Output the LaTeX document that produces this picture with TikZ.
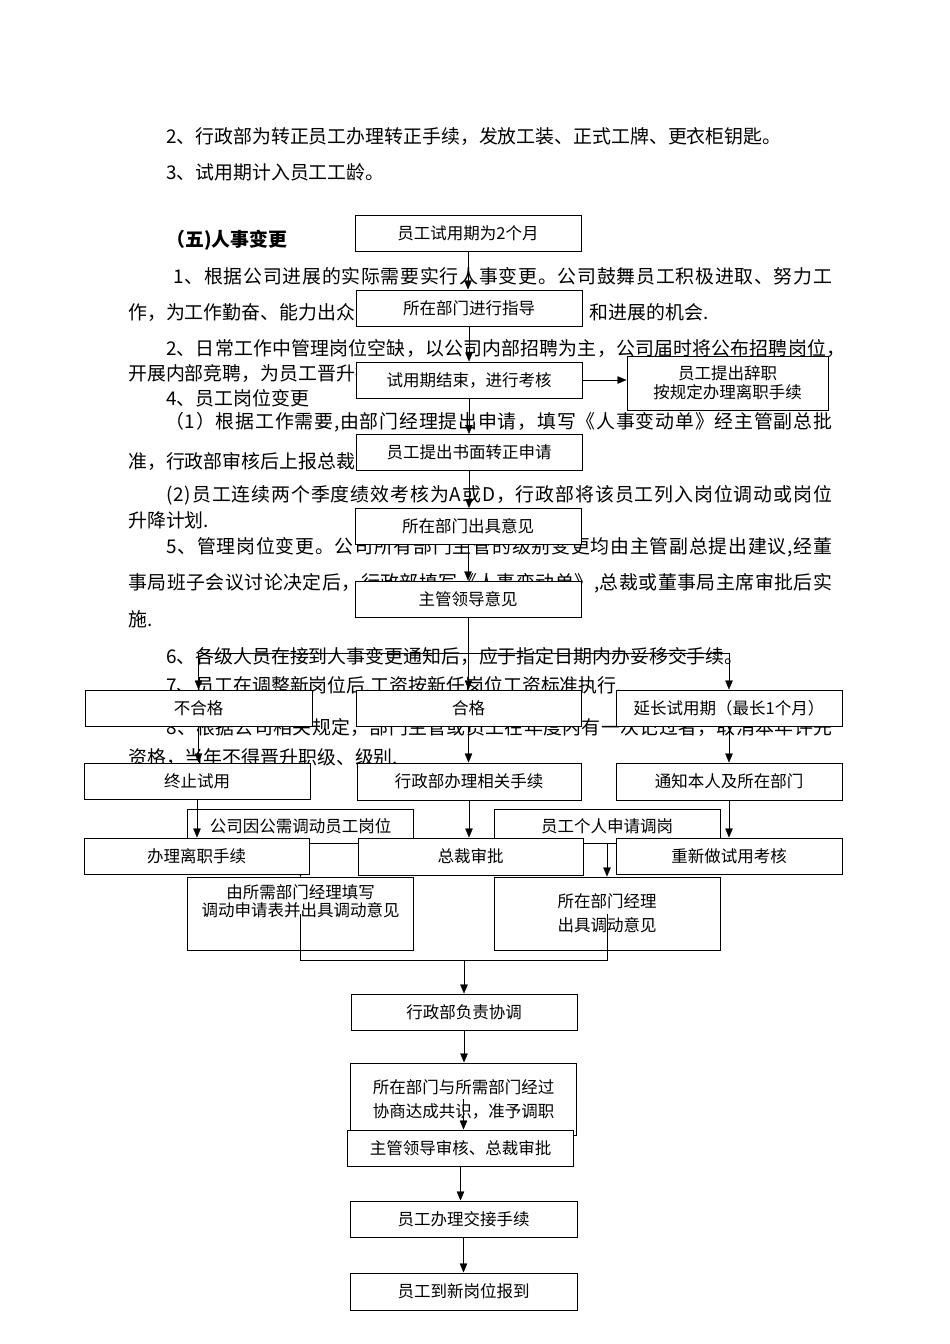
\documentclass[tikz,border=0pt]{standalone}
\usepackage{fontspec}
\setmainfont{Noto Sans CJK SC}
\usepackage{tikz}
\usetikzlibrary{arrows.meta}
\ExplSyntaxOn
\cs_new:Npn \spreadchars #1 { \tl_map_inline:nn {#1} { ##1 \hskip 0pt~plus~1fil } \unskip }
\ExplSyntaxOff
\newcommand\jline[2]{\hbox to #1{\spreadchars{#2}}}
\tikzset{box/.style={rectangle,draw,fill=white,line width=1pt,minimum width=226pt,minimum height=36pt,inner sep=2pt,align=center,font=\fontsize{16.5pt}{24pt}\selectfont}}
\tikzset{txt/.style={anchor=west,inner sep=0pt,font=\fontsize{18.9pt}{22pt}\selectfont}}

\begin{document}
\begin{tikzpicture}[x=1pt,y=-1pt,>={Triangle[length=9pt,width=7.5pt]}]
    \useasboundingbox (0,0) rectangle (950,1344);
    % page text
    \node[txt] (p1) at (166,137) {2、行政部为转正员工办理转正手续，发放工装、正式工牌、更衣柜钥匙。};
    \node[txt] (p2) at (166,172) {3、试用期计入员工工龄。};
    \node[txt,font=\fontsize{18.9pt}{22pt}\selectfont\bfseries] (head) at (166,240) {（五)人事变更};
    \node[txt] (p3) at (173,276) {\jline{659pt}{1、根据公司进展的实际需要实行人事变更。公司鼓舞员工积极进取、努力工}};
    \node[txt] (p4) at (128,313) {作，为工作勤奋、能力出众的员工提供更多的岗位晋升\hspace{8pt}和进展的机会.};
    \node[txt] (p5) at (166,349) {\jline{679pt}{2、日常工作中管理岗位空缺，以公司内部招聘为主，公司届时将公布招聘岗位，}};
    \node[txt] (p6) at (128,374) {开展内部竞聘，为员工晋升提供机会。};
    \node[txt] (p7) at (166,398) {4、员工岗位变更};
    \node[txt] (p8) at (165,422) {\jline{667pt}{（1）根据工作需要,由部门经理提出申请，填写《人事变动单》经主管副总批}};
    \node[txt] (p9) at (128,461) {准，行政部审核后上报总裁审批后执行。};
    \node[txt] (p10) at (166,495) {\jline{666pt}{(2)员工连续两个季度绩效考核为A或D，行政部将该员工列入岗位调动或岗位}};
    \node[txt] (p11) at (128,520) {升降计划.};
    \node[txt] (p12) at (166,547) {\jline{666pt}{5、管理岗位变更。公司所有部门主管的级别变更均由主管副总提出建议,经董}};
    \node[txt] (p13) at (128,583) {\jline{704pt}{事局班子会议讨论决定后，行政部填写《人事变动单》,总裁或董事局主席审批后实}};
    \node[txt] (p14) at (128,619) {施.};
    \node[txt] (p15) at (166,656) {6、各级人员在接到人事变更通知后，应于指定日期内办妥移交手续。};
    \node[txt] (p16) at (166,686) {7、员工在调整新岗位后,工资按新任岗位工资标准执行.};
    \node[txt] (p17) at (166,727) {\jline{666pt}{8、根据公司相关规定，部门主管或员工在年度内有一次记过者，取消本年评先}};
    \node[txt] (p18) at (128,758) {资格，当年不得晋升职级、级别.};

    % flow chart
    \node[box] (trial) at (468,233.5) {员工试用期为2个月};
    \node[box] (guide) at (469,308) {所在部门进行指导};
    \node[box] (assess) at (469,380) {试用期结束，进行考核};
    \node[box,minimum width=201pt,minimum height=54pt,font=\fontsize{16.5pt}{19pt}\selectfont] (resign) at (727.5,383) {员工提出辞职\\按规定办理离职手续};
    \node[box] (apply) at (469,452.5) {员工提出书面转正申请};
    \node[box] (deptop) at (468,526.5) {所在部门出具意见};
    \node[box] (leadop) at (468,599) {主管领导意见};
    \node[box,minimum width=227pt] (fail) at (198.5,708) {不合格};
    \node[box,minimum width=225pt] (pass) at (468.5,708) {合格};
    \node[box] (extend) at (729,708) {延长试用期（最长1个月）};
    \node[box] (stop) at (197,781) {终止试用};
    \node[box,minimum width=224pt,minimum height=37pt] (admin) at (469,781.5) {行政部办理相关手续};
    \node[box,minimum height=37pt] (notify) at (729,781.5) {通知本人及所在部门};
    \node[box,minimum height=34pt] (cneed) at (300.5,826) {公司因公需调动员工岗位};
    \node[box,minimum height=34pt] (pneed) at (607,826) {员工个人申请调岗};
    \draw [->] (cneed) -- (cneed |- 0,877);
    \node[box,minimum width=225pt] (quit) at (196.5,856) {办理离职手续};
    \node[box,minimum width=225pt,minimum height=37pt] (ceo) at (470.5,856.5) {总裁审批};
    \node[box] (retest) at (729,856) {重新做试用考核};
    \node[box,minimum height=73pt,font=\fontsize{16.5pt}{18pt}\selectfont] (cform) at (300.5,913.5) {由所需部门经理填写\\调动申请表并出具调动意见\\[8pt]\mbox{}};
    \node[box,minimum height=73pt] (pform) at (607,913.5) {所在部门经理\\出具调动意见};
    \node[box] (coord) at (464,1012) {行政部负责协调};
    \node[box,minimum height=72pt] (agree) at (463.5,1099) {所在部门与所需部门经过\\协商达成共识，准予调职};
    \node[box] (approve) at (460.5,1148) {主管领导审核、总裁审批};
    \node[box,minimum width=227pt] (handover) at (463.5,1219) {员工办理交接手续};
    \node[box,minimum width=227pt,minimum height=37pt] (report) at (463.5,1291.5) {员工到新岗位报到};

    \coordinate (split) at (468,653);
    \coordinate (join) at (464,960);

    \draw [->] (trial) -- (trial |- guide.north);
    \draw [->] (guide) -- (guide |- assess.north);
    \draw [->] (assess) -- (assess -| resign.west);
    \draw [->] (assess) -- (assess |- apply.north);
    \draw [->] (apply) -- (apply |- deptop.north);
    \draw [->] (deptop) -- (deptop |- leadop.north);
    \draw [] (leadop) -- (leadop |- split);
    \draw [] (fail |- split) -- (extend |- split);
    \draw [->] (fail |- split) -- (fail.north);
    \draw [->] (pass |- split) -- (pass.north);
    \draw [->] (extend |- split) -- (extend.north);
    \draw [->] (fail) -- (fail |- stop.north);
    \draw [->] (pass) -- (pass |- admin.north);
    \draw [->] (extend) -- (extend |- notify.north);
    \draw [->] (stop) -- (stop |- quit.north);
    \draw [->] (admin) -- (admin |- ceo.north);
    \draw [->] (notify) -- (notify |- retest.north);
    \draw [->] (pneed) -- (pneed |- pform.north);
    \draw [] (cform.center) -- (cform.center |- join) -- (pform.center |- join) -- (pform.center);
    \draw [->] (join) -- (coord.north);
    \draw [->] (coord) -- (coord |- agree.north);
    \draw [->] (agree.center) -- (agree.center |- approve.north);
    \draw [->] (approve) -- (approve |- handover.north);
    \draw [->] (handover) -- (handover |- report.north);
\end{tikzpicture}
\end{document}
